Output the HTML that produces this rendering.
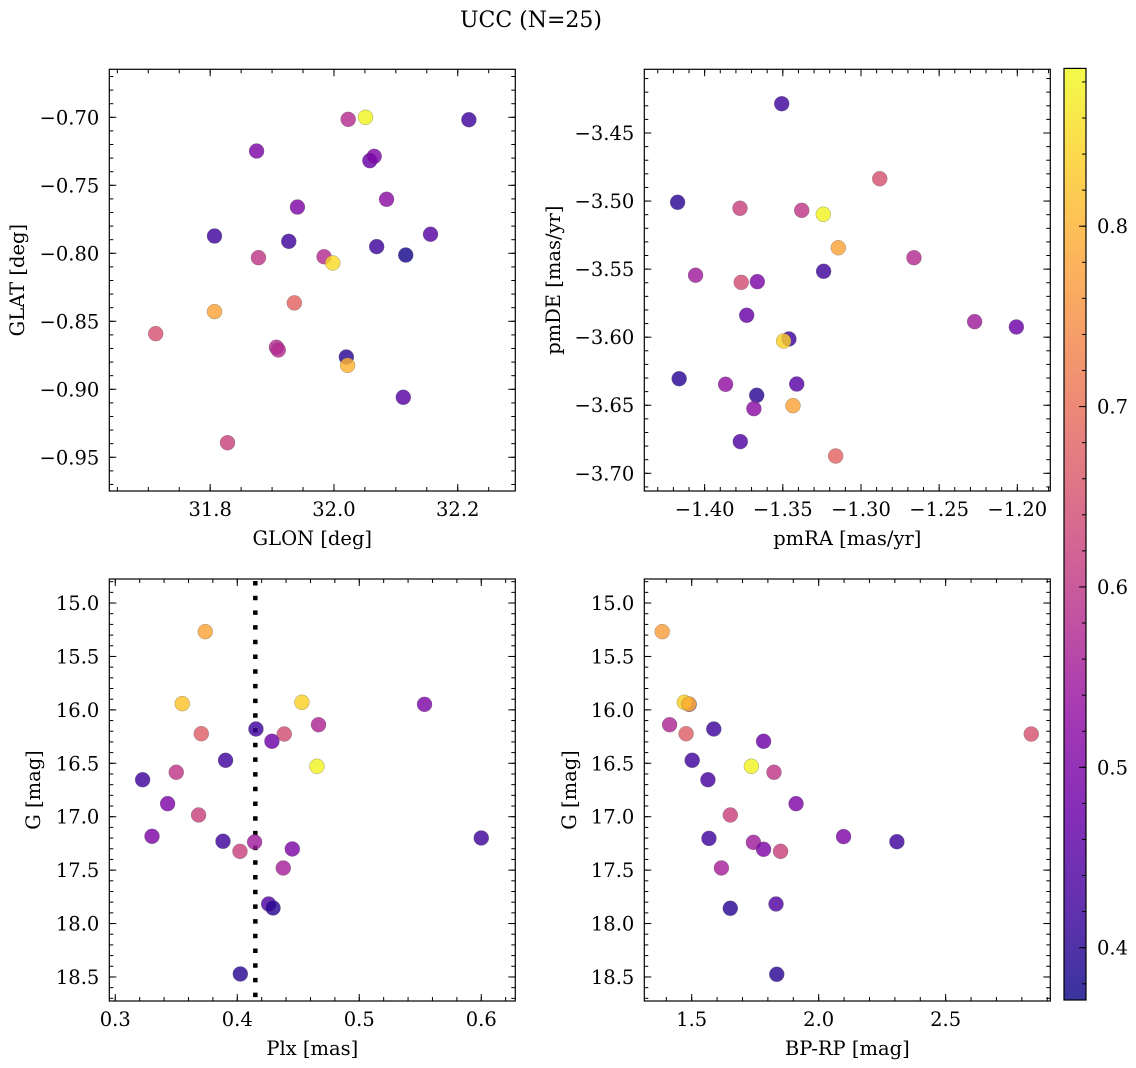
<!DOCTYPE html>
<html><head><meta charset="utf-8"><title>UCC (N=25)</title>
<style>
html,body{margin:0;padding:0;background:#fff;}
svg{display:block;font-family:"DejaVu Serif","Liberation Serif",serif;}
</style></head>
<body>
<svg id="fig" width="1136" height="1068" viewBox="0 0 1136 1068" xmlns="http://www.w3.org/2000/svg">
<text x="531" y="27" font-size="22" text-anchor="middle" fill="#000">UCC (N=25)</text>
</svg>
<script>
// ---- Panel 1: GLON vs GLAT ----
const glonX = [32.023,32.051,32.218,31.875,32.058,32.065,32.085,31.941,31.807,31.927,32.156,32.069,32.116,31.878,31.984,31.998,31.936,31.807,31.712,31.907,31.910,32.020,32.022,32.112,31.828];
const glatY = [-0.7015,-0.700,-0.7018,-0.7248,-0.7319,-0.7287,-0.7603,-0.766,-0.7873,-0.7912,-0.786,-0.7951,-0.8013,-0.8032,-0.8025,-0.8071,-0.8365,-0.8429,-0.8591,-0.8691,-0.8711,-0.8763,-0.8824,-0.9059,-0.9393];
const glonC = [0.58,0.88,0.42,0.50,0.47,0.50,0.52,0.50,0.42,0.42,0.45,0.42,0.38,0.60,0.58,0.85,0.68,0.78,0.65,0.58,0.58,0.40,0.80,0.45,0.62];
// ---- Panel 2: pmRA vs pmDE ----
const pmraX = [-1.3507,-1.288,-1.4173,-1.3774,-1.3379,-1.3241,-1.3145,-1.2661,-1.4058,-1.3239,-1.3766,-1.3663,-1.3731,-1.2273,-1.2006,-1.3461,-1.3495,-1.4163,-1.3866,-1.3411,-1.3667,-1.3685,-1.3435,-1.3772,-1.3162];
const pmdeY = [-3.4285,-3.4836,-3.5009,-3.5053,-3.5068,-3.5097,-3.5343,-3.5416,-3.5545,-3.5516,-3.5597,-3.5592,-3.5839,-3.5886,-3.5925,-3.6013,-3.6028,-3.6305,-3.6346,-3.6344,-3.6427,-3.6525,-3.6503,-3.6767,-3.6873];
const pmC = [0.42,0.65,0.40,0.62,0.60,0.88,0.78,0.58,0.55,0.42,0.64,0.50,0.47,0.55,0.48,0.42,0.84,0.40,0.53,0.45,0.40,0.52,0.78,0.44,0.68];
// ---- Panel 3: Plx vs G ----
const plxX = [0.3738,0.3549,0.4530,0.5535,0.4666,0.4153,0.3705,0.4385,0.4284,0.3904,0.4653,0.3500,0.3224,0.3429,0.3683,0.3301,0.3883,0.4022,0.4142,0.4451,0.4377,0.6000,0.4257,0.4293,0.4025];
const plxG = [15.268,15.942,15.929,15.948,16.139,16.179,16.223,16.226,16.294,16.472,16.528,16.584,16.654,16.878,16.984,17.183,17.230,17.324,17.237,17.302,17.480,17.199,17.817,17.854,18.472];
const plxC = [0.78,0.82,0.84,0.50,0.57,0.42,0.67,0.64,0.48,0.42,0.88,0.60,0.42,0.50,0.62,0.50,0.42,0.62,0.55,0.50,0.56,0.42,0.44,0.40,0.40];
const plxLine = 0.4148;
// ---- Panel 4: BP-RP vs G ----
const bprpX = [1.384,1.490,1.471,1.489,1.413,1.478,1.587,1.783,1.735,1.824,1.502,1.564,1.911,1.652,1.568,2.098,2.308,1.743,1.783,1.850,1.617,1.652,1.832,1.835,2.837];
const bprpG = [15.268,15.948,15.929,15.945,16.139,16.223,16.179,16.294,16.528,16.584,16.472,16.654,16.878,16.984,17.203,17.186,17.234,17.240,17.305,17.324,17.480,17.857,17.817,18.475,16.226];
const bprpC = [0.77,0.50,0.84,0.80,0.57,0.67,0.42,0.48,0.88,0.60,0.42,0.43,0.50,0.62,0.42,0.50,0.42,0.55,0.50,0.62,0.56,0.40,0.44,0.40,0.65];
// ---- Tick labels ----
const glonTicks = [31.8,32.0,32.2];
const glatTicks = [-0.70,-0.75,-0.80,-0.85,-0.90,-0.95];
const pmraTicks = [-1.40,-1.35,-1.30,-1.25,-1.20];
const pmdeTicks = [-3.45,-3.50,-3.55,-3.60,-3.65,-3.70];
const plxTicks = [0.3,0.4,0.5,0.6];
const gTicks = [15.0,15.5,16.0,16.5,17.0,17.5,18.0,18.5];
const bprpTicks = [1.5,2.0,2.5];
const cbarTicks = [0.4,0.5,0.6,0.7,0.8];
const cMin = 0.371, cMax = 0.8875;

const NS = "http://www.w3.org/2000/svg";
const svg = document.getElementById('fig');
const FS = 19.5;
function mk(tag, attrs, parent){
  const e = document.createElementNS(NS, tag);
  for (const k in attrs) e.setAttribute(k, attrs[k]);
  (parent||svg).appendChild(e);
  return e;
}
const stops = ["#0d0887","#41049d","#6a00a8","#8f0da4","#b12a90","#cc4778","#e16462","#f2844b","#fca636","#fcce25","#f0f921"];
function hex(h){return [parseInt(h.substr(1,2),16),parseInt(h.substr(3,2),16),parseInt(h.substr(5,2),16)];}
function plasma(t){
  t=Math.max(0,Math.min(1,t));
  const p=t*10, i=Math.min(9,Math.floor(p)), f=p-i;
  const a=hex(stops[i]), b=hex(stops[i+1]);
  return "rgb("+a.map((v,k)=>Math.round(v+(b[k]-v)*f)).join(",")+")";
}
function cnorm(c){return (c-cMin)/(cMax-cMin);}
function fmt(v,d){const s=Math.abs(v).toFixed(d);return (v<0?"\u2212":"")+s;}

function panel(cfg){
  const {name,L,T,R,B,x0,x1,y0,y1} = cfg;
  const g = mk('g',{});
  
  
  const sx = v => L + (v-x0)/(x1-x0)*(R-L);
  const sy = v => T + (v-y0)/(y1-y0)*(B-T);
  function ticksX(step, len){
    const s = Math.ceil(x0/step-1e-6);
    for(let k=s; k*step<=x1+1e-9; k++){
      const x = sx(k*step);
      mk('line',{x1:x,x2:x,y1:B,y2:B-len,stroke:'#000','stroke-width':1},g);
      mk('line',{x1:x,x2:x,y1:T,y2:T+len,stroke:'#000','stroke-width':1},g);
    }
  }
  function ticksY(step, len){
    const lo=Math.min(y0,y1), hi=Math.max(y0,y1);
    const s = Math.ceil(lo/step-1e-6);
    for(let k=s; k*step<=hi+1e-9; k++){
      const y = sy(k*step);
      mk('line',{x1:L,x2:L+len,y1:y,y2:y,stroke:'#000','stroke-width':1},g);
      mk('line',{x1:R,x2:R-len,y1:y,y2:y,stroke:'#000','stroke-width':1},g);
    }
  }
  ticksX(cfg.xMinor,4); ticksY(cfg.yMinor,4);
  cfg.xTicks.forEach(v=>{
    const x=sx(v);
    mk('line',{x1:x,x2:x,y1:B,y2:B-7,stroke:'#000','stroke-width':1},g);
    mk('line',{x1:x,x2:x,y1:T,y2:T+7,stroke:'#000','stroke-width':1},g);
    const t=mk('text',{x:x,y:B+25,'font-size':FS,'text-anchor':'middle'},g);
    t.textContent=fmt(v,cfg.xd);
    
    
  });
  cfg.yTicks.forEach(v=>{
    const y=sy(v);
    mk('line',{x1:L,x2:L+7,y1:y,y2:y,stroke:'#000','stroke-width':1},g);
    mk('line',{x1:R,x2:R-7,y1:y,y2:y,stroke:'#000','stroke-width':1},g);
    const t=mk('text',{x:L-10,y:y+7,'font-size':FS,'text-anchor':'end'},g);
    t.textContent=fmt(v,cfg.yd);
    
    
  });
  if(cfg.vline!==undefined){
    const x=sx(cfg.vline);
    const ln=mk('line',{x1:x,x2:x,y1:T+2,y2:B,stroke:'#000','stroke-width':4.5,'stroke-dasharray':'4.5 10.2'},g);
    
    
  }
  cfg.xs.forEach((xv,i)=>{
    const c=mk('circle',{cx:sx(xv),cy:sy(cfg.ys[i]),r:7.5,fill:plasma(cnorm(cfg.cs[i])),'fill-opacity':0.82,stroke:'#666','stroke-opacity':0.6,'stroke-width':0.5},g);
    
    
  });
  const box=mk('rect',{x:L,y:T,width:R-L,height:B-T,fill:'none',stroke:'#000','stroke-width':1.2},g);
  
  
  const xl=mk('text',{x:(L+R)/2,y:B+54,'font-size':FS,'text-anchor':'middle'},g);
  xl.textContent=cfg.xlabel;
  
  
  const yc=(T+B)/2;
  const yl=mk('text',{x:cfg.ylx,y:yc,'font-size':FS,'text-anchor':'middle',transform:'rotate(-90 '+cfg.ylx+' '+yc+')'},g);
  yl.textContent=cfg.ylabel;
  
  
}

panel({name:'glon-glat',L:109.3,T:69.3,R:515.3,B:491,x0:31.637,x1:32.293,y0:-0.6647,y1:-0.9748,
  xTicks:glonTicks,yTicks:glatTicks,xMinor:0.05,yMinor:0.01,xd:1,yd:2,xs:glonX,ys:glatY,cs:glonC,
  xlabel:'GLON [deg]',ylabel:'GLAT [deg]',ylx:24});
panel({name:'pmra-pmde',L:644.3,T:69.3,R:1050.3,B:491,x0:-1.4386,x1:-1.1789,y0:-3.4032,y1:-3.713,
  xTicks:pmraTicks,yTicks:pmdeTicks,xMinor:0.01,yMinor:0.01,xd:2,yd:2,xs:pmraX,ys:pmdeY,cs:pmC,
  xlabel:'pmRA [mas/yr]',ylabel:'pmDE [mas/yr]',ylx:560});
panel({name:'plx-g',L:109.3,T:579,R:515.3,B:1001,x0:0.2951,x1:0.6279,y0:14.775,y1:18.725,
  xTicks:plxTicks,yTicks:gTicks,xMinor:0.02,yMinor:0.1,xd:1,yd:1,xs:plxX,ys:plxG,cs:plxC,vline:plxLine,
  xlabel:'Plx [mas]',ylabel:'G [mag]',ylx:40});
panel({name:'bprp-g',L:644.3,T:579,R:1050.3,B:1001,x0:1.3134,x1:2.912,y0:14.775,y1:18.725,
  xTicks:bprpTicks,yTicks:gTicks,xMinor:0.1,yMinor:0.1,xd:1,yd:1,xs:bprpX,ys:bprpG,cs:bprpC,
  xlabel:'BP-RP [mag]',ylabel:'G [mag]',ylx:576});

// ---- Colorbar ----
(function(){
  const L=1064,R=1086,T=68.4,B=1000;
  const g=mk('g',{});
  
  
  const defs=mk('defs',{},g);
  const lg=mk('linearGradient',{id:'plasmaGrad',x1:0,y1:1,x2:0,y2:0},defs);
  for(let i=0;i<=20;i++){
    const f=i/20, v=cMin+f*(cMax-cMin);
    mk('stop',{offset:f,'stop-color':plasma(cnorm(v)),'stop-opacity':0.82},lg);
  }
  mk('rect',{x:L,y:T,width:R-L,height:B-T,fill:'url(#plasmaGrad)'},g);
  const sy=v=>B-(v-cMin)/(cMax-cMin)*(B-T);
  for(let k=Math.ceil(cMin/0.02);k*0.02<=cMax;k++){
    const y=sy(k*0.02);
    mk('line',{x1:R,x2:R-4,y1:y,y2:y,stroke:'#000','stroke-width':1},g);
  }
  cbarTicks.forEach(v=>{
    const y=sy(v);
    mk('line',{x1:R,x2:R-7,y1:y,y2:y,stroke:'#000','stroke-width':1},g);
    const t=mk('text',{x:R+11,y:y+7,'font-size':FS,'text-anchor':'start'},g);
    t.textContent=v.toFixed(1);
    
    
  });
  mk('rect',{x:L,y:T,width:R-L,height:B-T,fill:'none',stroke:'#000','stroke-width':1.2},g);
})();
</script>
</body></html>
